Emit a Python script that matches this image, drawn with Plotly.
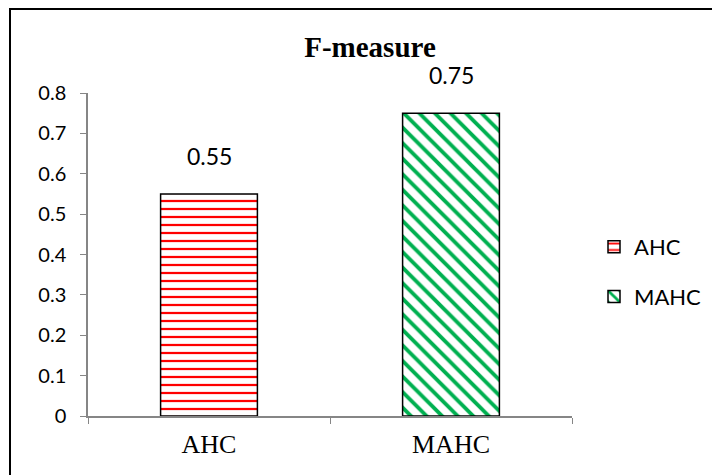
import plotly.graph_objects as go

categories = ["AHC", "MAHC"]
values = [0.55, 0.75]
value_labels = ["0.55", "0.75"]
series_names = ["AHC", "MAHC"]
colors = ["#FF0000", "#00B050"]
shapes = ["-", "\\"]
y_ticks = [0, 0.1, 0.2, 0.3, 0.4, 0.5, 0.6, 0.7, 0.8]
y_ticklabels = ["0", "0.1", "0.2", "0.3", "0.4", "0.5", "0.6", "0.7", "0.8"]

OFF = 8  # default page body margin
W, H = 720 - OFF, 475 - OFF
# plot area in page pixels: x 88..572, y 93..416
L, R, T, B = 88 - OFF, 720 - 572, 93 - OFF, 475 - 416
pw, ph = W - L - R, H - T - B


def px(x):
    return (x - OFF - L) / pw


def py(y):
    return (H - B - (y - OFF)) / ph


SANS = "Lato, Open Sans, Liberation Sans"

fig = go.Figure()
for i in range(len(categories)):
    fig.add_trace(go.Bar(
        x=[categories[i]], y=[values[i]], name=series_names[i],
        width=0.4, legendgroup="g%d" % i,
        marker=dict(color="white", line=dict(color="black", width=1.5),
                    pattern=dict(shape=shapes[i], fgcolor=colors[i], bgcolor="white",
                                 size=8 if i == 0 else 11, solidity=0.28 if i == 0 else 0.35,
                                 fillmode="replace")),
    ))
    fig.add_annotation(x=categories[i], y=values[i], text=value_labels[i], showarrow=False,
                       yshift=38, font=dict(family=SANS, size=23, color="#000"))

fig.add_shape(type="rect", xref="paper", yref="paper",
              x0=px(10), x1=px(740), y0=py(500), y1=py(9),
              line=dict(color="black", width=2), fillcolor="rgba(0,0,0,0)")

fig.update_layout(
    width=W, height=H,
    margin=dict(l=L, r=R, t=T, b=B),
    paper_bgcolor="white", plot_bgcolor="white",
    title=dict(text="<b>F-measure</b>", x=(370 - OFF) / W, xanchor="center",
               y=1 - (47 - OFF) / H, yanchor="middle",
               font=dict(family="Liberation Serif", size=29, color="#000")),
    barmode="overlay",
    showlegend=True,
    legend=dict(x=px(594), y=py(226), xanchor="left", yanchor="top",
                font=dict(family=SANS, size=22, color="#000"),
                tracegroupgap=18, bgcolor="rgba(0,0,0,0)"),
    xaxis=dict(range=[-0.5, 1.5], showline=True, linecolor="#868686", linewidth=1.5,
               ticks="outside", tickson="boundaries", ticklen=6, tickcolor="#868686",
               ticklabelstandoff=4,
               tickfont=dict(family="Liberation Serif", size=26, color="#000"),
               showgrid=False, zeroline=False),
    yaxis=dict(range=[0, 0.8], tickvals=y_ticks, ticktext=y_ticklabels,
               showline=True, linecolor="#868686", linewidth=1.5,
               ticks="outside", ticklen=6, tickcolor="#868686",
               ticklabelstandoff=10,
               tickfont=dict(family=SANS, size=20, color="#000"),
               showgrid=False, zeroline=False),
)

fig.write_html("out.html")
